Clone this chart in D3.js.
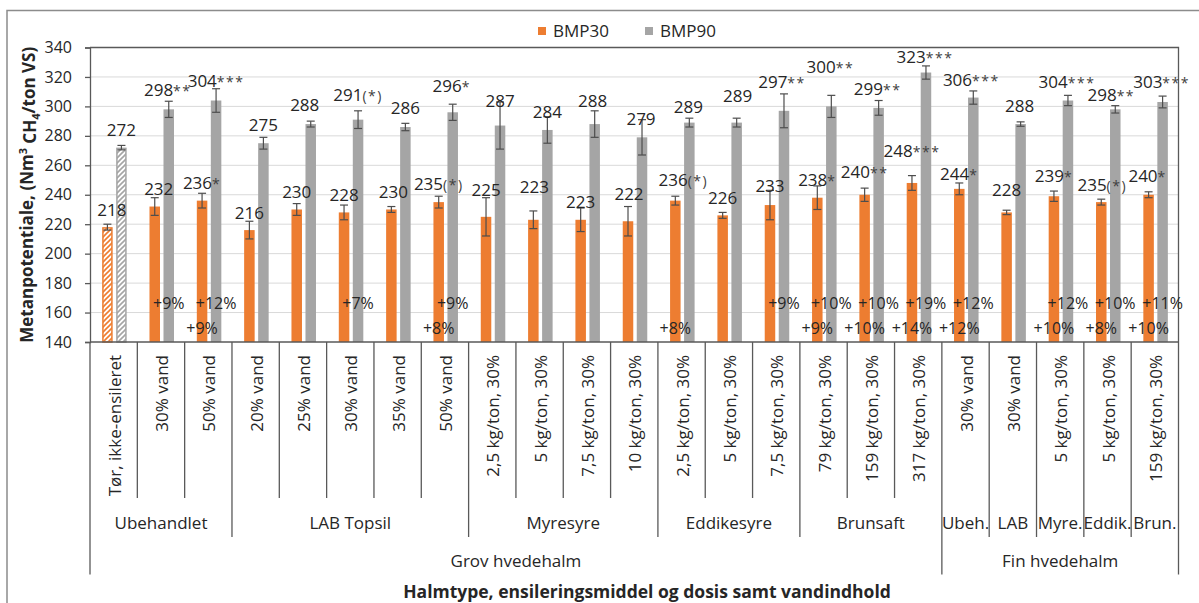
<!DOCTYPE html>
<html>
<head>
<meta charset="utf-8">
<script src="https://cdn.jsdelivr.net/npm/d3@7"></script>
<style>
  body { margin: 0; background: #fff; }
  svg { display: block; }
  text { font-family: "Open Sans", sans-serif; fill: #262626; }
</style>
</head>
<body>
<svg id="chart" width="1199" height="603"></svg>
<script>
// ---- data ----
const categories = [
  "Tør, ikke-ensileret", "30% vand", "50% vand",
  "20% vand", "25% vand", "30% vand", "35% vand", "50% vand",
  "2,5 kg/ton, 30%", "5 kg/ton, 30%", "7,5 kg/ton, 30%", "10 kg/ton, 30%",
  "2,5 kg/ton, 30%", "5 kg/ton, 30%", "7,5 kg/ton, 30%",
  "79 kg/ton, 30%", "159 kg/ton, 30%", "317 kg/ton, 30%",
  "30% vand", "30% vand", "5 kg/ton, 30%", "5 kg/ton, 30%", "159 kg/ton, 30%"
];
const groupNames = ["Ubehandlet", "LAB Topsil", "Myresyre", "Eddikesyre", "Brunsaft",
                    "Ubeh.", "LAB", "Myre.", "Eddik.", "Brun."];
const groupSizes = [3, 5, 4, 3, 3, 1, 1, 1, 1, 1];
const strawNames = ["Grov hvedehalm", "Fin hvedehalm"];
const strawSizes = [18, 5];

const seriesNames = ["BMP30", "BMP90"];
const bmp30 = [218, 232, 236, 216, 230, 228, 230, 235, 225, 223, 223, 222, 236, 226, 233, 238, 240, 248, 244, 228, 239, 235, 240];
const bmp90 = [272, 298, 304, 275, 288, 291, 286, 296, 287, 284, 288, 279, 289, 289, 297, 300, 299, 323, 306, 288, 304, 298, 303];
const err30 = [2, 6, 5, 6, 4, 5, 2, 4, 13, 6, 8, 10, 3, 2, 10, 8, 4.5, 5, 4, 1.5, 3.5, 2, 2];
const err90 = [1.5, 5.5, 8, 4, 2, 6, 2.5, 5.5, 16, 9, 9, 12, 3, 3, 11.5, 7.5, 5, 4.5, 4.5, 1.5, 3.5, 2.5, 4];
const sig30 = ["", "", "*", "", "", "", "", "(*)", "", "", "", "", "(*)", "", "", "*", "**", "***", "*", "", "*", "(*)", "*"];
const sig90 = ["", "**", "***", "", "", "(*)", "", "*", "", "", "", "", "", "", "**", "**", "**", "***", "***", "", "***", "**", "***"];
const gain30 = [null, null, "+9%", null, null, null, null, "+8%", null, null, null, null, "+8%", null, null,
                "+9%", "+10%", "+14%", "+12%", null, "+10%", "+8%", "+10%"];
const gain90 = [null, "+9%", "+12%", null, null, "+7%", null, "+9%", null, null, null, null, null, null,
                "+9%", "+10%", "+10%", "+19%", "+12%", null, "+12%", "+10%", "+11%"];
const yTicks = [140, 160, 180, 200, 220, 240, 260, 280, 300, 320, 340];

// ---- label placement (hand-set offsets of value labels) ----
const lift30 = [17, 18, 18, 17.5, 18, 17.7, 18, 18.6, 26.6, 33, 18, 27.7, 20.4, 17, 18.8, 17.5, 22.8, 32, 14.6, 22.4, 20, 17.6, 18.5];
const lift90 = [18, 19, 20, 18, 18.7, 25, 19, 26, 25, 18, 22.7, 18.7, 16, 27, 28.7, 40, 19, 15.3, 18, 17.7, 19, 14.3, 20];
const shift30 = [4.5, 4, 0, 0, 0, 0, 2, 0, 0, 1, 0, 1, 8, 0, 0, 0, 0, 0, 0, 0, 0, 1, -1];
const shift90 = [0, -1, 0, 0, -6, 0, 0, -1, 0, 0, -2, -1, -1, 1, -2, -1, -1, -1, -2, -1, -1, -4, -1];

// ---- style ----
const colors = { BMP30: "#ED7D31", BMP90: "#A5A5A5" };
const axisColor = "#595959";
const gridColor = "#D9D9D9";
const errColor = "#4d4d4d";

const svg = d3.select("#chart");
const margin = { left: 90, right: 1178.5, top: 47.5, bottom: 342 };

// outer chart frame
svg.append("path")
  .attr("d", "M7,610 V10.5 H1210")
  .attr("fill", "none").attr("stroke", "#8c8c8c").attr("stroke-width", 1.5);

const x = d3.scaleBand().domain(d3.range(categories.length)).range([margin.left, margin.right]);
const bw = x.bandwidth();
const x1 = d3.scaleBand().domain(seriesNames).range([bw * 0.257, bw * 0.775]).paddingInner(0.25);
const y = d3.scaleLinear().domain([140, 340]).range([margin.bottom, margin.top]);

// hatch patterns for the untreated dry reference
const defs = svg.append("defs");
seriesNames.forEach(s => {
  const p = defs.append("pattern")
    .attr("id", "hatch-" + s)
    .attr("patternUnits", "userSpaceOnUse")
    .attr("width", 5).attr("height", 5);
  p.append("rect").attr("width", 5).attr("height", 5).attr("fill", "#fff");
  p.append("path")
    .attr("d", "M-1,6 L6,-1 M-1,1 L1,-1 M4,6 L6,4")
    .attr("stroke", colors[s]).attr("stroke-width", 1.6);
});

// gridlines
svg.append("g").selectAll("line")
  .data(yTicks.filter(t => t > 140 && t < 340))
  .join("line")
  .attr("x1", margin.left).attr("x2", margin.right)
  .attr("y1", d => y(d)).attr("y2", d => y(d))
  .attr("stroke", gridColor).attr("stroke-width", 1);

// plot frame (top and right)
svg.append("path")
  .attr("d", `M${margin.left},${y(340)} H${margin.right} V${y(140)}`)
  .attr("fill", "none").attr("stroke", axisColor).attr("stroke-width", 1.3);

// y axis
const yAxis = svg.append("g")
  .attr("transform", `translate(${margin.left},0)`)
  .call(d3.axisLeft(y).tickValues(yTicks).tickSize(5).tickPadding(13).tickFormat(d3.format("d")));
yAxis.select(".domain").attr("stroke", axisColor).attr("stroke-width", 1.3);
yAxis.selectAll(".tick line").attr("stroke", axisColor).attr("stroke-width", 1.3);
yAxis.selectAll(".tick text")
  .attr("font-family", "Open Sans").attr("font-size", 16).attr("fill", "#262626");

// bars
const rows = categories.map((c, i) => ({
  i,
  vals: [
    { s: "BMP30", v: bmp30[i], e: err30[i], sig: sig30[i], lift: lift30[i], dx: shift30[i], gain: gain30[i] },
    { s: "BMP90", v: bmp90[i], e: err90[i], sig: sig90[i], lift: lift90[i], dx: shift90[i], gain: gain90[i] }
  ]
}));

const cat = svg.append("g").selectAll("g")
  .data(rows).join("g")
  .attr("transform", d => `translate(${x(d.i)},0)`);

cat.selectAll("rect")
  .data(d => d.vals.map(v => ({ ...v, i: d.i })))
  .join("rect")
  .attr("x", d => x1(d.s) + (d.i === 0 ? 0.75 : 0))
  .attr("width", d => x1.bandwidth() - (d.i === 0 ? 1.5 : 0))
  .attr("y", d => y(d.v) + (d.i === 0 ? 0.75 : 0))
  .attr("height", d => y(140) - y(d.v) - (d.i === 0 ? 0.75 : 0))
  .attr("fill", d => d.i === 0 ? `url(#hatch-${d.s})` : colors[d.s])
  .attr("stroke", d => d.i === 0 ? colors[d.s] : "none")
  .attr("stroke-width", 1.5);

// error bars
const eb = cat.selectAll("g.err")
  .data(d => d.vals)
  .join("g").attr("class", "err")
  .attr("transform", d => `translate(${x1(d.s) + x1.bandwidth() / 2},0)`);
eb.append("line")
  .attr("y1", d => y(d.v - d.e)).attr("y2", d => y(d.v + d.e))
  .attr("stroke", errColor).attr("stroke-width", 1.2);
eb.selectAll("line.cap")
  .data(d => [d.v - d.e, d.v + d.e])
  .join("line").attr("class", "cap")
  .attr("x1", -4).attr("x2", 4)
  .attr("y1", d => y(d)).attr("y2", d => y(d))
  .attr("stroke", errColor).attr("stroke-width", 1.2);

// value labels, significance marks set smaller and spaced
const vl = cat.selectAll("text.val")
  .data(d => d.vals)
  .join("text").attr("class", "val")
  .attr("x", d => x1(d.s) + x1.bandwidth() / 2 + d.dx)
  .attr("y", d => y(d.v) - d.lift)
  .attr("dy", "0.36em")
  .attr("text-anchor", "middle")
  .attr("font-size", 17);
vl.append("tspan").text(d => d.v);
vl.filter(d => d.sig)
  .append("tspan")
  .attr("font-size", 14)
  .attr("letter-spacing", 1.5)
  .attr("fill", "#404040")
  .text(d => d.sig);

// relative gain labels
cat.selectAll("text.gain")
  .data(d => d.vals.filter(v => v.gain))
  .join("text").attr("class", "gain")
  .attr("x", d => x1(d.s) + x1.bandwidth() / 2)
  .attr("y", d => d.s === "BMP90" ? y(166.4) : y(149.5))
  .attr("dy", "0.36em")
  .attr("text-anchor", "middle")
  .attr("font-size", 16)
  .text(d => d.gain);

// ---- multi-level category axis ----
const axisG = svg.append("g");
axisG.append("line")
  .attr("x1", margin.left).attr("x2", margin.right)
  .attr("y1", y(140)).attr("y2", y(140))
  .attr("stroke", axisColor).attr("stroke-width", 1.3);

const groupStarts = d3.cumsum([0, ...groupSizes]);
const strawStarts = d3.cumsum([0, ...strawSizes]);
const levelBottom = { cat: 498, group: 537, straw: 574.5 };
const boundaries = d3.range(categories.length + 1).map(b => {
  const level = strawStarts.includes(b) ? "straw" : groupStarts.includes(b) ? "group" : "cat";
  return { b, level };
});
const bx = b => b === categories.length ? margin.right : x(b);
axisG.selectAll("line.div")
  .data(boundaries).join("line").attr("class", "div")
  .attr("x1", d => bx(d.b)).attr("x2", d => bx(d.b))
  .attr("y1", y(140)).attr("y2", d => levelBottom[d.level])
  .attr("stroke", axisColor).attr("stroke-width", 1.3);

axisG.selectAll("text.cat")
  .data(categories).join("text").attr("class", "cat")
  .attr("transform", (d, i) => `translate(${x(i) + bw / 2 + 1},355) rotate(-90)`)
  .attr("dy", "0.36em")
  .attr("text-anchor", "end")
  .attr("font-size", 17)
  .text(d => d);

axisG.selectAll("text.grp")
  .data(groupNames).join("text").attr("class", "grp")
  .attr("x", (d, i) => (bx(groupStarts[i]) + bx(groupStarts[i + 1])) / 2)
  .attr("y", 523).attr("dy", "0.36em")
  .attr("text-anchor", "middle")
  .attr("font-size", 17)
  .text(d => d);

axisG.selectAll("text.straw")
  .data(strawNames).join("text").attr("class", "straw")
  .attr("x", (d, i) => (bx(strawStarts[i]) + bx(strawStarts[i + 1])) / 2)
  .attr("y", 561).attr("dy", "0.36em")
  .attr("text-anchor", "middle")
  .attr("font-size", 17)
  .text(d => d);

// axis titles
svg.append("text")
  .attr("x", 647).attr("y", 592).attr("dy", "0.36em")
  .attr("text-anchor", "middle")
  .attr("font-size", 17.5).attr("font-weight", "bold")
  .text("Halmtype, ensileringsmiddel og dosis samt vandindhold");

const yt = svg.append("text")
  .attr("transform", `translate(27,${(y(140) + y(340)) / 2}) rotate(-90)`)
  .attr("dy", "0.36em")
  .attr("text-anchor", "middle")
  .attr("font-size", 17).attr("font-weight", "bold");
yt.append("tspan").text("Metanpotentiale, (Nm");
yt.append("tspan").attr("font-size", 11).attr("dy", "-0.55em").text("3");
yt.append("tspan").attr("dy", "0.55em").text(" CH");
yt.append("tspan").attr("font-size", 11).attr("dy", "0.3em").text("4");
yt.append("tspan").attr("dy", "-0.3em").text("/ton VS)");

// legend
const legend = svg.append("g");
const legendX = { BMP30: 538, BMP90: 645 };
seriesNames.forEach(s => {
  legend.append("rect")
    .attr("x", legendX[s]).attr("y", 27)
    .attr("width", 8).attr("height", 8)
    .attr("fill", colors[s]);
  legend.append("text")
    .attr("x", legendX[s] + 15).attr("y", 31).attr("dy", "0.36em")
    .attr("font-size", 17)
    .text(s);
});
</script>
</body>
</html>
